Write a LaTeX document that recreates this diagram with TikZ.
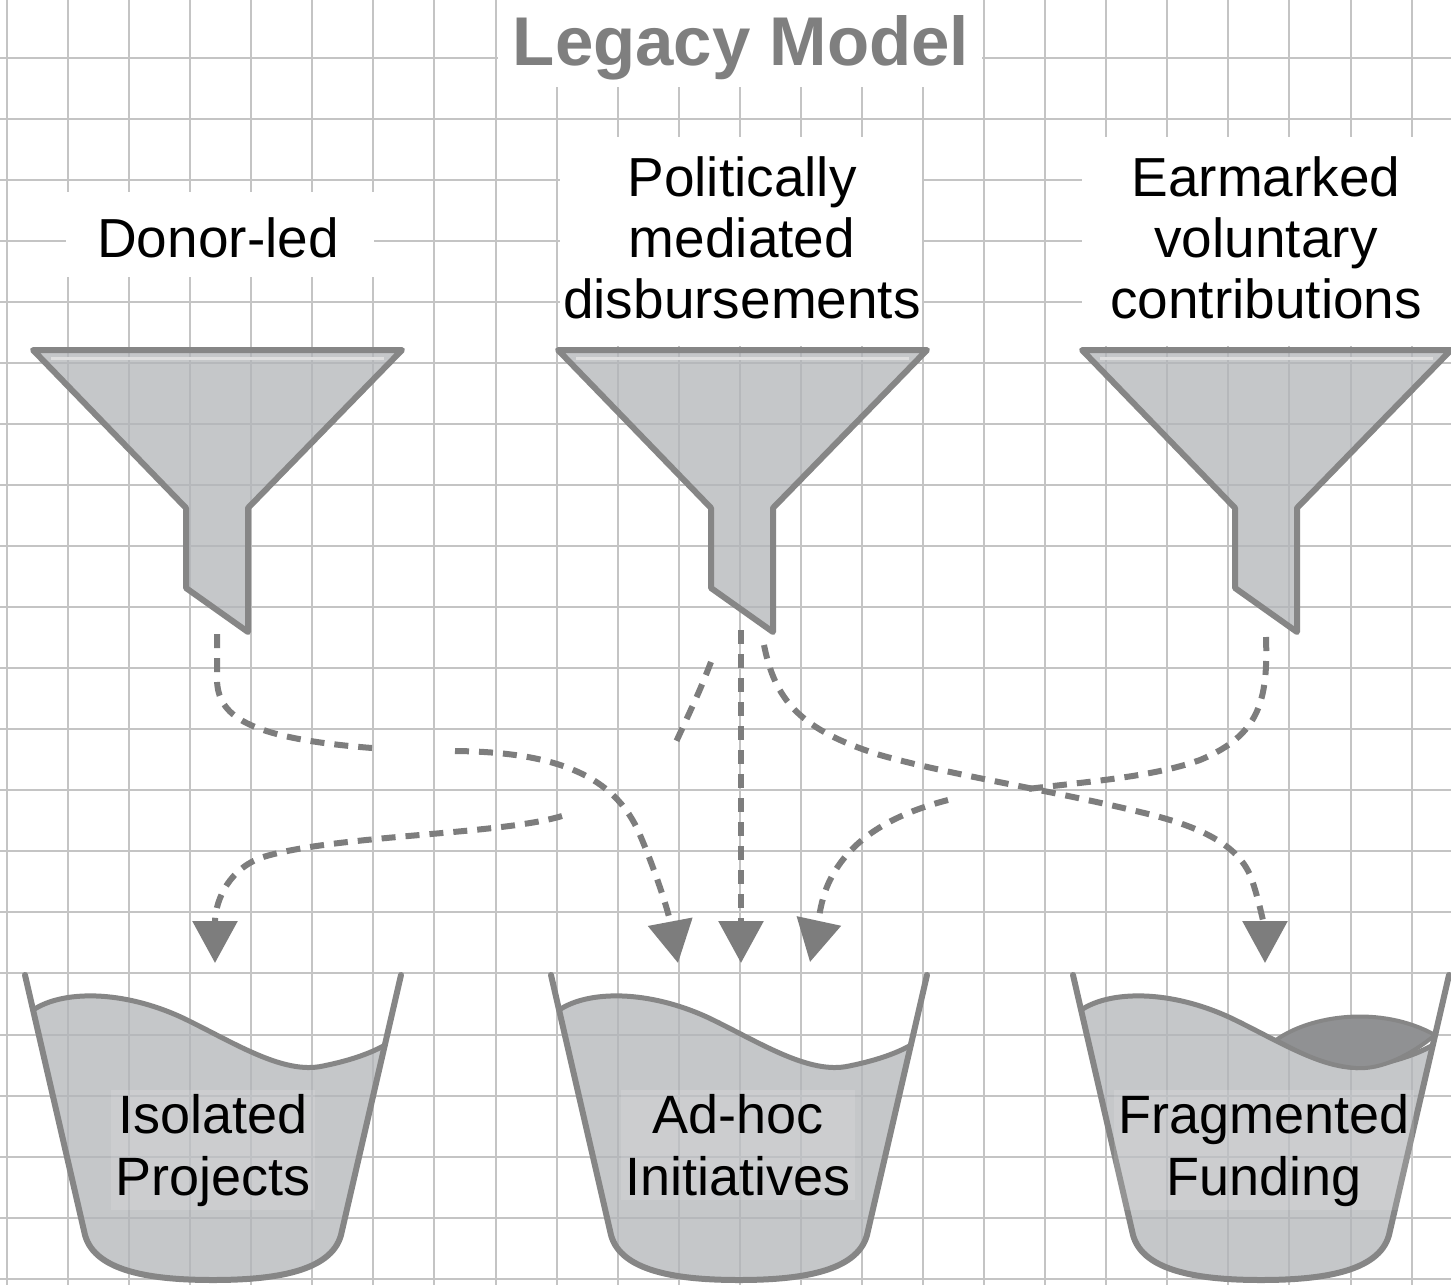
\documentclass[tikz,border=0pt]{standalone}
\usepackage{fontspec}
\setmainfont{Liberation Sans}
\usetikzlibrary{arrows.meta}
\definecolor{gridc}{HTML}{C4C4C4}
\definecolor{strokec}{HTML}{868686}
\definecolor{fillc}{HTML}{B2B5B8}
\definecolor{darkc}{HTML}{909193}
\definecolor{flowc}{HTML}{7D7D7D}
\definecolor{titlec}{HTML}{7F7F7F}
\begin{document}
\begin{tikzpicture}[x=1pt,y=-1pt,
  gridline/.style={gridc, line width=2pt},
  blank/.style={fill=white, draw=none},
  toplabel/.style={font=\fontsize{55}{61}\selectfont, align=center, anchor=base, inner sep=0pt, text=black},
  bucketlabel/.style={font=\fontsize{54}{62}\selectfont, align=center, anchor=base, inner sep=4pt, fill=white, fill opacity=0.12, text opacity=1, text=black},
  flow/.style={flowc, line width=6pt, dash pattern=on 14pt off 10pt},
  flowtip/.style={flow, -{Triangle[width=44pt,length=42pt]}},
  vessel/.style={draw=strokec, fill=fillc, fill opacity=0.75, line width=6pt, line join=round},
  wall/.style={strokec, line width=6pt, line cap=round, line join=round},
  surface/.style={strokec, line width=5pt, line cap=round},
  lens/.style={draw=strokec, fill=darkc, line width=4pt},
  pics/funnel/.style={code={
    \draw[vessel] (-184,350) -- (185,350) -- (31,508) -- (31,632) -- (-31,588) -- (-31,508) -- cycle;
    \draw[line width=3pt, white!75!gray] (-166,358) -- (167,358);
  }},
  pics/bucket/.style={code={
    \fill[fillc, fill opacity=0.75] (-180,1010) .. controls (-150,990) and (-90,990) .. (-30,1018)
      .. controls (20,1042) and (70,1075) .. (110,1066) .. controls (140,1060) and (160,1052) .. (172,1045)
      -- (128,1235) .. controls (118,1272) and (60,1280) .. (0,1280)
      .. controls (-60,1280) and (-118,1272) .. (-128,1235) -- cycle;
    \draw[surface] (-180,1010) .. controls (-150,990) and (-90,990) .. (-30,1018)
      .. controls (20,1042) and (70,1075) .. (110,1066) .. controls (140,1060) and (160,1052) .. (172,1045);
    \draw[wall] (-188,975) -- (-128,1235) .. controls (-118,1272) and (-60,1280) .. (0,1280)
      .. controls (60,1280) and (118,1272) .. (128,1235) -- (188,975);
  }}]
\useasboundingbox (0,0) rectangle (1451,1285);
\fill[white] (0,0) rectangle (1451,1285);
% grid
\foreach \i in {0,...,23} \draw[gridline] ({7+61.07*\i},0) -- ({7+61.07*\i},1285);
\foreach \j in {0,...,20} \draw[gridline] (0,{57.7+61.05*\j}) -- (1451,{57.7+61.05*\j});
% white label backgrounds
\fill[blank] (498,0) rectangle (982,87);
\fill[blank] (66,192) rectangle (374,277);
\fill[blank] (560,137) rectangle (922,346);
\fill[blank] (1082,137) rectangle (1451,346);
% title and labels
\node[font=\bfseries\fontsize{69}{80}\selectfont, text=titlec, anchor=base, inner sep=0pt] (title) at (741,65) {Legacy Model};
\node[toplabel] (l1) at (218,257) {Donor-led};
\node[toplabel] (l2) at (742,318) {Politically\\mediated\\disbursements};
\node[toplabel] (l3) at (1266,318) {Earmarked\\voluntary\\contributions};
% funnels
\pic (f1) at (217,0) {funnel};
\pic (f2) at (742,0) {funnel};
\pic (f3) at (1266,0) {funnel};
% buckets
\pic (k1) at (213,0) {bucket};
\pic (k2) at (739,0) {bucket};
\pic (k3) at (1261,0) {bucket};
\begin{scope}[shift={(1261,0)}]
\draw[lens] (15,1040) .. controls (50,1015) and (120,1005) .. (174,1035)
  .. controls (150,1055) and (120,1070) .. (95,1068) .. controls (60,1065) and (35,1050) .. (15,1040) -- cycle;
\end{scope}
\node[bucketlabel] (t1) at (213,1195) {Isolated\\Projects};
\node[bucketlabel] (t2) at (738,1195) {Ad-hoc\\Initiatives};
\node[bucketlabel] (t3) at (1264,1195) {Fragmented\\Funding};
% connector end points
\coordinate (f1out) at (217,634);
\coordinate (f2left) at (711,662);
\coordinate (f2mid) at (741,630);
\coordinate (f2right) at (764,645);
\coordinate (f3out) at (1266,637);
\coordinate (b1in) at (215,963);
\coordinate (b2l) at (678,963);
\coordinate (b2m) at (741,963);
\coordinate (b2r) at (810,962);
\coordinate (b3in) at (1265,963);
\coordinate (g1a) at (372,748);
\coordinate (g1b) at (455,751);
\coordinate (g2a) at (676,742);
\coordinate (g2b) at (562,816);
\coordinate (g5a) at (1020,790);
\coordinate (g5b) at (948,800);
% connectors
\draw[flow] (f1out) -- (217,680) .. controls (218,715) and (245,738) .. (g1a);
\draw[flowtip] (g1b) .. controls (555,752) and (615,775) .. (640,835) .. controls (655,870) and (668,910) .. (b2l);
\draw[flow] (f2left) .. controls (700,690) .. (g2a);
\draw[flowtip] (g2b) .. controls (500,835) and (330,835) .. (260,858) .. controls (225,872) and (215,905) .. (b1in);
\draw[flowtip] (f2mid) -- (b2m);
\draw[flowtip] (f2right) .. controls (775,700) and (800,730) .. (880,755) .. controls (950,775) and (1050,790) .. (1140,812)
  .. controls (1200,826) and (1240,845) .. (1252,880) .. controls (1262,910) and (1265,935) .. (b3in);
\draw[flow] (f3out) .. controls (1268,700) and (1260,735) .. (1200,760) .. controls (1150,778) and (1080,782) .. (g5a);
\draw[flowtip] (g5b) .. controls (890,815) and (850,840) .. (830,880) .. controls (820,900) and (818,925) .. (b2r);
\end{tikzpicture}
\end{document}
